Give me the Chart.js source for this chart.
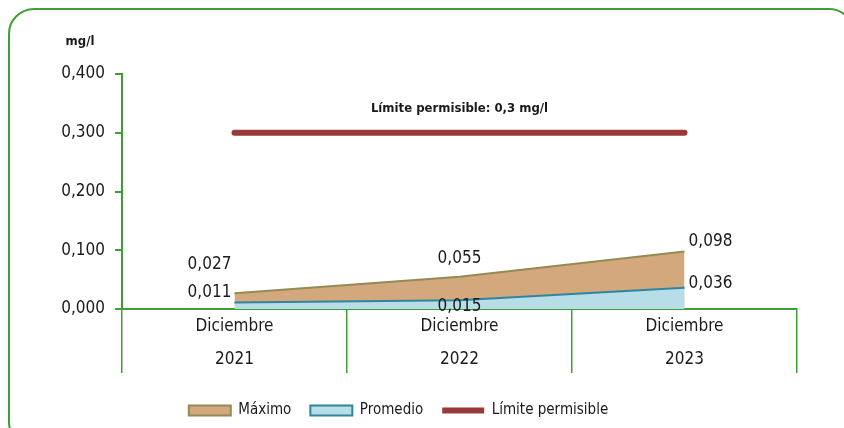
<!DOCTYPE html>
<html>
<head>
<meta charset="utf-8">
<script src="https://cdn.jsdelivr.net/npm/chart.js@4.4.0/dist/chart.umd.min.js"></script>
<style>
  html, body { margin: 0; padding: 0; background: #fff; overflow: hidden; }
  #wrap { position: relative; width: 844px; height: 428px; overflow: hidden; }
  #frame {
    position: absolute; left: 8px; top: 8px; width: 847px; height: 440px;
    border: 2.5px solid #3f9f36; border-radius: 26px; box-sizing: border-box;
  }
  canvas { position: absolute; left: 0; top: 0; }
</style>
</head>
<body>
<div id="wrap">
  <div id="frame"></div>
  <canvas id="chart" width="844" height="428"></canvas>
</div>
<script>
var categories = [["Diciembre", "2021"], ["Diciembre", "2022"], ["Diciembre", "2023"]];
var maximo = [0.027, 0.055, 0.098];
var promedio = [0.011, 0.015, 0.036];
var limite = [0.3, 0.3, 0.3];
var yTicks = [0, 0.1, 0.2, 0.3, 0.4];

var green = "#3f9f36";
var font = "'Liberation Sans Narrow', 'DejaVu Sans Condensed', 'Liberation Sans', Arial, sans-serif";

function fmt(v, d) {
  return v.toFixed(d).replace(".", ",");
}

// value labels next to the points + the limit caption
var valueLabels = {
  id: "valueLabels",
  afterDatasetsDraw: function (chart) {
    var ctx = chart.ctx;
    ctx.save();
    ctx.fillStyle = "#1a1a1a";
    ctx.textAlign = "center";
    ctx.textBaseline = "middle";
    ctx.font = "17px " + font;
    var offsets = [
      [[-25, -29], [0, -18], [26, -10]],
      [[-25, -10], [0, 6], [26, -4]]
    ];
    [0, 1].forEach(function (di) {
      var meta = chart.getDatasetMeta(di);
      var data = chart.data.datasets[di].data;
      meta.data.forEach(function (pt, i) {
        var o = offsets[di][i];
        ctx.fillText(fmt(data[i], 3), pt.x + o[0], pt.y + o[1]);
      });
    });
    var lm = chart.getDatasetMeta(2).data[1];
    ctx.font = "bold 13px " + font;
    ctx.fillText("Límite permisible: 0,3 mg/l", lm.x, lm.y - 24);
    ctx.fillText("mg/l", 80, 42);
    ctx.restore();
  }
};

new Chart(document.getElementById("chart"), {
  type: "line",
  data: {
    labels: categories,
    datasets: [
      {
        label: "Máximo",
        data: maximo,
        backgroundColor: "#d3a87c",
        borderColor: "#948a54",
        borderWidth: 2,
        fill: "origin",
        pointRadius: 0,
        pointStyle: "rect",
        tension: 0,
        order: 2
      },
      {
        label: "Promedio",
        data: promedio,
        backgroundColor: "#b7dde8",
        borderColor: "#31859c",
        borderWidth: 2,
        fill: "origin",
        pointRadius: 0,
        pointStyle: "rect",
        tension: 0,
        order: 1
      },
      {
        label: "Límite permisible",
        data: limite,
        backgroundColor: "#953735",
        borderColor: "#9a3a38",
        borderWidth: 6,
        borderCapStyle: "round",
        fill: false,
        pointRadius: 0,
        pointStyle: "line",
        order: 0
      }
    ]
  },
  options: {
    responsive: false,
    animation: false,
    layout: { padding: { left: 0, right: 47, top: 74, bottom: 0 } },
    plugins: {
      tooltip: { enabled: false },
      legend: {
        position: "bottom",
        labels: {
          usePointStyle: true,
          pointStyleWidth: 42,
          boxHeight: 10,
          padding: 19,
          color: "#1a1a1a",
          font: { family: font, size: 15 },
          sort: function (a, b) { return a.datasetIndex - b.datasetIndex; }
        }
      }
    },
    scales: {
      x: {
        offset: true,
        grid: {
          offset: true,
          drawOnChartArea: false,
          drawTicks: true,
          tickLength: 64,
          color: green,
          lineWidth: 1.5
        },
        border: { color: green, width: 2 },
        ticks: {
          padding: -63,
          color: "#1a1a1a",
          font: { family: font, size: 17, lineHeight: "33px" }
        },
        afterFit: function (scale) { scale.height = 75; }
      },
      y: {
        min: 0,
        max: 0.4,
        afterBuildTicks: function (scale) {
          scale.ticks = yTicks.map(function (v) { return { value: v }; });
        },
        grid: {
          drawOnChartArea: false,
          tickLength: 7,
          color: green,
          lineWidth: 2
        },
        border: { color: green, width: 2 },
        ticks: {
          padding: 10,
          color: "#1a1a1a",
          font: { family: font, size: 17 },
          callback: function (v) { return fmt(v, 3); }
        },
        afterFit: function (scale) { scale.width = 122; }
      }
    }
  },
  plugins: [valueLabels]
});
</script>
</body>
</html>
